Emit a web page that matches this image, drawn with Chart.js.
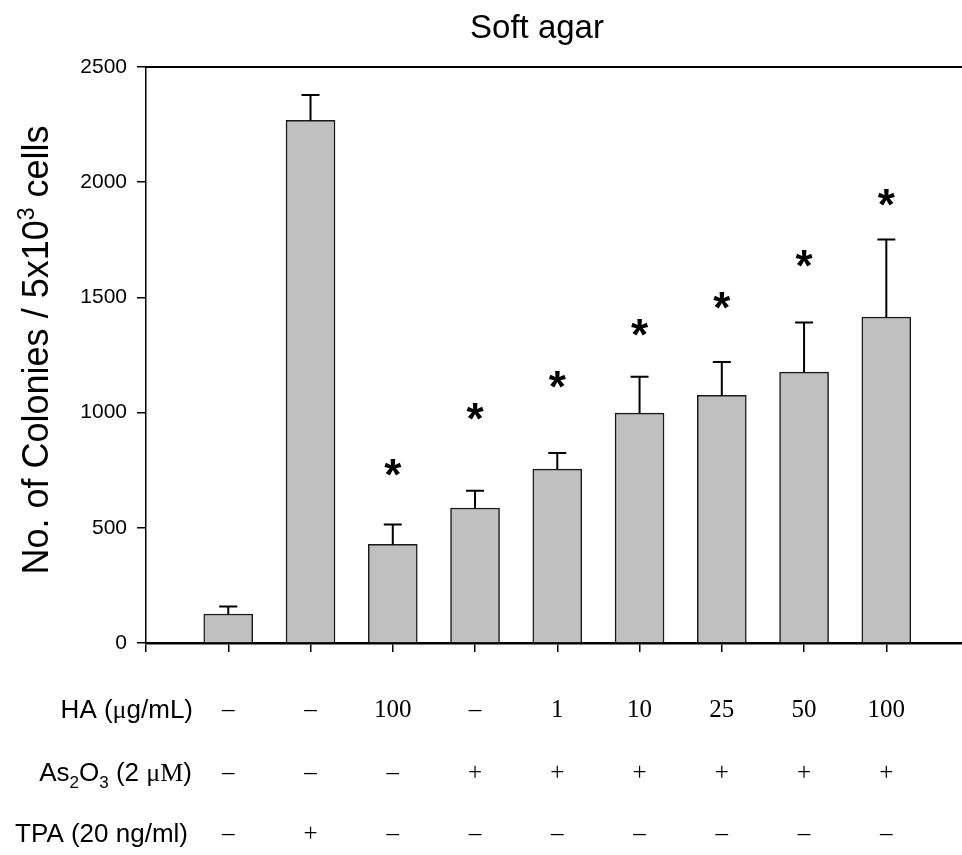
<!DOCTYPE html>
<html>
<head>
<meta charset="utf-8">
<script src="https://cdn.jsdelivr.net/npm/chart.js@4/dist/chart.umd.min.js"></script>
<style>
  body { margin: 0; background: #fff; }
  canvas { display: block; }
</style>
</head>
<body>
<canvas id="chart" width="962" height="855"></canvas>
<script>
// treatment groups, left to right
const groups = ['Control', 'TPA', 'HA 100', 'As2O3', 'As2O3 + HA 1', 'As2O3 + HA 10', 'As2O3 + HA 25', 'As2O3 + HA 50', 'As2O3 + HA 100'];
const colonies = [126, 2269, 428, 586, 755, 998, 1075, 1176, 1415];
const errors = [32, 109, 86, 75, 70, 158, 145, 215, 336];
// height of the "*" marks
const stars = [null, null, 762, 1003, 1144, 1371, 1487, 1668, 1933];
const yTicks = [0, 500, 1000, 1500, 2000, 2500];

// table under the axis
const haRow = ['\u2013', '\u2013', '100', '\u2013', '1', '10', '25', '50', '100'];
const asRow = ['\u2013', '\u2013', '\u2013', '+', '+', '+', '+', '+', '+'];
const tpaRow = ['\u2013', '+', '\u2013', '\u2013', '\u2013', '\u2013', '\u2013', '\u2013', '\u2013'];

const SANS = '"Liberation Sans", Arial, sans-serif';
const SERIF = '"Liberation Serif", "Times New Roman", serif';

function drawRuns(ctx, runs, rightX, baseY) {
  // runs: [text, font, dy]
  let total = 0;
  runs.forEach(r => { ctx.font = r[1]; r.w = ctx.measureText(r[0]).width; total += r.w; });
  let cx = rightX - total;
  runs.forEach(r => {
    ctx.font = r[1];
    ctx.fillText(r[0], cx, baseY + (r[2] || 0));
    cx += r.w;
  });
}

const overlay = {
  id: 'overlay',
  afterDatasetsDraw(chart) {
    const ctx = chart.ctx;
    const xs = chart.scales.x, ys = chart.scales.y;
    const a = chart.chartArea;
    ctx.save();
    ctx.strokeStyle = '#000';

    // top frame line
    ctx.lineWidth = 2;
    ctx.beginPath();
    ctx.moveTo(a.left, a.top);
    ctx.lineTo(a.right, a.top);
    ctx.stroke();

    // error bars (upper only)
    ctx.lineWidth = 2;
    colonies.forEach((v, i) => {
      const px = xs.getPixelForValue(i + 1);
      const y0 = ys.getPixelForValue(v);
      const y1 = ys.getPixelForValue(v + errors[i]);
      ctx.beginPath();
      ctx.moveTo(px, y0);
      ctx.lineTo(px, y1);
      ctx.moveTo(px - 9, y1);
      ctx.lineTo(px + 9, y1);
      ctx.stroke();
    });

    // significance stars
    ctx.fillStyle = '#000';
    ctx.font = 'bold 44px ' + SANS;
    ctx.textAlign = 'center';
    ctx.textBaseline = 'alphabetic';
    const m = ctx.measureText('*');
    const off = (m.actualBoundingBoxAscent - m.actualBoundingBoxDescent) / 2;
    stars.forEach((s, i) => {
      if (s == null) return;
      ctx.fillText('*', xs.getPixelForValue(i + 1), ys.getPixelForValue(s) + off);
    });
    ctx.restore();
  },
  afterDraw(chart) {
    const ctx = chart.ctx;
    const xs = chart.scales.x;
    ctx.save();
    ctx.fillStyle = '#000';
    ctx.textBaseline = 'alphabetic';

    // title
    ctx.textAlign = 'center';
    ctx.font = '33px ' + SANS;
    ctx.fillText('Soft agar', 537, 38);

    // y axis title with superscript
    ctx.save();
    ctx.translate(48, 350);
    ctx.rotate(-Math.PI / 2);
    ctx.textAlign = 'left';
    const big = '36px ' + SANS, small = '23px ' + SANS;
    ctx.font = big;
    const p1 = 'No. of Colonies / 5x10', p3 = ' cells';
    const w1 = ctx.measureText(p1).width, w3 = ctx.measureText(p3).width;
    ctx.font = small;
    const w2 = ctx.measureText('3').width;
    let sx = -(w1 + w2 + w3) / 2;
    ctx.font = big; ctx.fillText(p1, sx, 0); sx += w1;
    ctx.font = small; ctx.fillText('3', sx, -14); sx += w2;
    ctx.font = big; ctx.fillText(p3, sx, 0);
    ctx.restore();

    // row labels
    ctx.textAlign = 'left';
    const lab = '26px ' + SANS;
    drawRuns(ctx, [['HA (', lab], ['\u03bc', '26px ' + SERIF], ['g/mL)', lab]], 193, 718);
    drawRuns(ctx, [['As', lab], ['2', '17px ' + SANS, 7], ['O', lab], ['3', '17px ' + SANS, 7],
                   [' (2 ', lab], ['\u03bcM', '26px ' + SERIF], [')', lab]], 192, 781);
    drawRuns(ctx, [['TPA (20 ng/ml)', lab]], 188, 842);

    // row values
    ctx.textAlign = 'center';
    ctx.font = '25px ' + SERIF;
    const rows = [[haRow, 717], [asRow, 780], [tpaRow, 841]];
    rows.forEach(([vals, by]) => {
      vals.forEach((t, i) => ctx.fillText(t, xs.getPixelForValue(i + 1), by));
    });
    ctx.restore();
  }
};

const ctx = document.getElementById('chart').getContext('2d');
const chart = new Chart(ctx, {
  type: 'bar',
  data: {
    labels: groups,
    datasets: [{
      label: 'Colonies',
      data: colonies.map((v, i) => ({ x: i + 1, y: v })),
      backgroundColor: '#c0c0c0',
      borderColor: '#1a1a1a',
      borderWidth: 1.5,
      barThickness: 49
    }]
  },
  options: {
    responsive: false,
    animation: false,
    devicePixelRatio: 1,
    layout: { padding: { top: 67, right: 0, left: 0, bottom: 0 } },
    plugins: {
      legend: { display: false },
      title: { display: false },
      tooltip: { enabled: false }
    },
    scales: {
      x: {
        type: 'linear',
        min: 0,
        max: 9.92,
        offset: false,
        afterBuildTicks: s => { s.ticks = [0, 1, 2, 3, 4, 5, 6, 7, 8, 9].map(v => ({ value: v })); },
        afterFit: s => { s.height = 212; },
        grid: { offset: false, drawOnChartArea: false, drawTicks: true, tickLength: 9, color: '#000', lineWidth: 1.5 },
        border: { color: '#000', width: 2.5 },
        ticks: { display: false }
      },
      y: {
        min: 0,
        max: 2500,
        afterBuildTicks: s => { s.ticks = yTicks.map(v => ({ value: v })); },
        afterFit: s => { s.width = 146; },
        grid: { drawOnChartArea: false, drawTicks: true, tickLength: 9, color: '#000', lineWidth: 1.5 },
        border: { color: '#000', width: 1.5 },
        ticks: { color: '#000', padding: 10, font: { family: SANS, size: 21 }, callback: v => String(v) }
      }
    }
  },
  plugins: [overlay]
});
</script>
</body>
</html>
